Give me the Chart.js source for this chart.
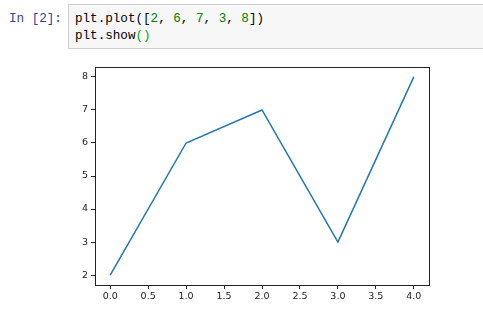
<!DOCTYPE html>
<html>
<head>
<meta charset="utf-8">
<script src="https://cdn.jsdelivr.net/npm/chart.js@4"></script>
<style>
  html, body { margin: 0; padding: 0; background: #fff; width: 483px; height: 315px; overflow: hidden; }
  .prompt { position: absolute; left: 9px; top: 11px; font: 12.6px "Liberation Mono", monospace; color: #303f9f; line-height: 17px; }
  .cell { position: absolute; left: 68px; top: 4px; width: 420px; height: 45px; background: #f7f7f7; border: 1px solid #cfcfcf; box-sizing: border-box; }
  .code { position: absolute; left: 75px; top: 11px; font: 12.6px "Liberation Mono", monospace; color: #000; line-height: 17px; white-space: pre; }
  .num { color: #008000; }
  .br { color: #00aa00; }
  #wrap { position: absolute; left: 0; top: 0; width: 483px; height: 315px; }
</style>
</head>
<body>
<div class="prompt">In [2]:</div>
<div class="cell"></div>
<div class="code">plt.plot([<span class="num">2</span>, <span class="num">6</span>, <span class="num">7</span>, <span class="num">3</span>, <span class="num">8</span>])
plt.show<span class="br">()</span></div>
<div id="wrap"><canvas id="plot" width="483" height="315"></canvas></div>
<script>
// values passed to plt.plot
const xValues = [0, 1, 2, 3, 4];
const yValues = [2, 6, 7, 3, 8];

// axis ticks as matplotlib picks them
const xTicks = [0, 0.5, 1, 1.5, 2, 2.5, 3, 3.5, 4];
const yTicks = [2, 3, 4, 5, 6, 7, 8];

const points = xValues.map((x, i) => ({ x, y: yValues[i] }));

const tickFont = { family: "DejaVu Sans", size: 9.5 };
const frame = { display: true, color: "#222", width: 1 };

function fixTicks(list) {
  return scale => { scale.ticks = list.map(v => ({ value: v })); };
}

new Chart(document.getElementById("plot"), {
  type: "line",
  data: {
    datasets: [{
      data: points,
      borderColor: "#1f77b4",
      borderWidth: 1.5,
      pointRadius: 0,
      tension: 0,
      fill: false
    }]
  },
  options: {
    responsive: false,
    animation: false,
    events: [],
    layout: { padding: { left: 55, right: 54, top: 67, bottom: 8 } },
    plugins: { legend: { display: false }, tooltip: { enabled: false } },
    scales: {
      x: {
        type: "linear", position: "bottom", min: -0.2, max: 4.2,
        afterBuildTicks: fixTicks(xTicks),
        afterFit: s => { s.height = 22; },
        grid: { drawOnChartArea: false, drawTicks: true, tickLength: 4, color: "#222" },
        border: frame,
        ticks: { font: tickFont, color: "#222", padding: 2, maxRotation: 0, autoSkip: false, callback: v => v.toFixed(1) }
      },
      y: {
        type: "linear", position: "left", min: 1.7, max: 8.3,
        afterBuildTicks: fixTicks(yTicks),
        afterFit: s => { s.width = 40; },
        grid: { drawOnChartArea: false, drawTicks: true, tickLength: 4, color: "#222" },
        border: frame,
        ticks: { font: tickFont, color: "#222", padding: 3, autoSkip: false, callback: v => String(v) }
      },
      x2: {
        type: "linear", position: "top", min: -0.2, max: 4.2,
        afterFit: s => { s.height = 0; },
        grid: { display: false }, ticks: { display: false }, border: frame
      },
      y2: {
        type: "linear", position: "right", min: 1.7, max: 8.3,
        afterFit: s => { s.width = 0; },
        grid: { display: false }, ticks: { display: false }, border: frame
      }
    }
  }
});
</script>
</body>
</html>
